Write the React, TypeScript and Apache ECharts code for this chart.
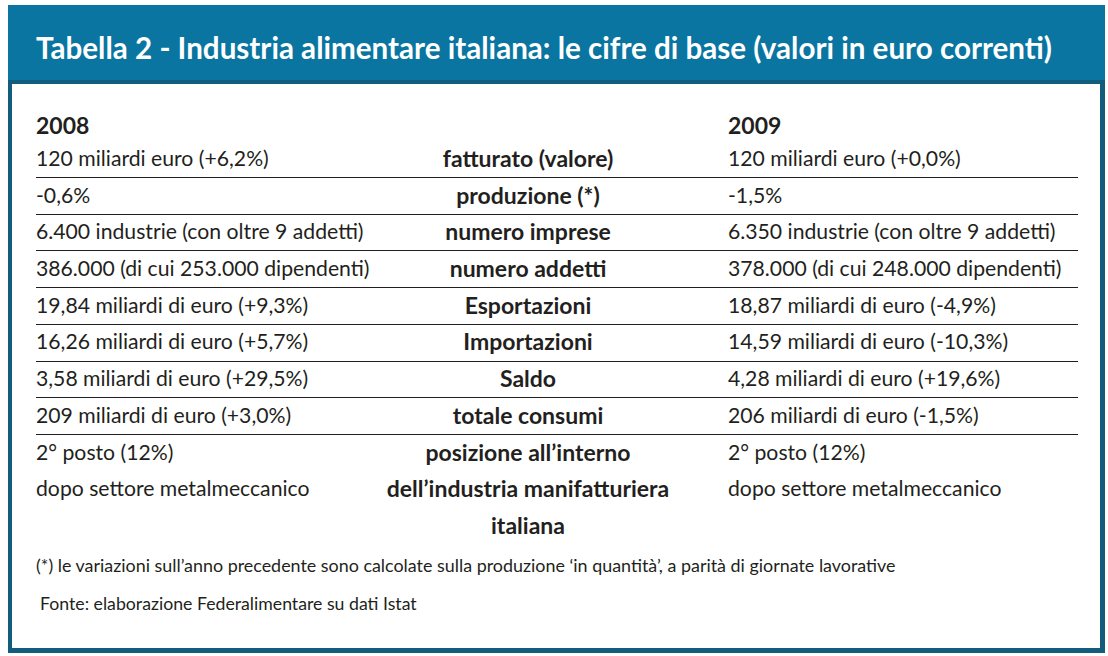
import React, { useEffect, useRef } from "react";
import * as echarts from "echarts";

const title = "Tabella 2 - Industria alimentare italiana: le cifre di base (valori in euro correnti)";
const years = ["2008", "2009"];
const indicators = [
  "fatturato (valore)",
  "produzione (*)",
  "numero imprese",
  "numero addetti",
  "Esportazioni",
  "Importazioni",
  "Saldo",
  "totale consumi",
  "posizione all\u2019interno\ndell\u2019industria manifatturiera\nitaliana",
];
const values2008 = [
  "120 miliardi euro (+6,2%)",
  "-0,6%",
  "6.400 industrie (con oltre 9 addetti)",
  "386.000 (di cui 253.000 dipendenti)",
  "19,84 miliardi di euro (+9,3%)",
  "16,26 miliardi di euro (+5,7%)",
  "3,58 miliardi di euro (+29,5%)",
  "209 miliardi di euro (+3,0%)",
  "2\u00b0 posto (12%)\ndopo settore metalmeccanico",
];
const values2009 = [
  "120 miliardi euro (+0,0%)",
  "-1,5%",
  "6.350 industrie (con oltre 9 addetti)",
  "378.000 (di cui 248.000 dipendenti)",
  "18,87 miliardi di euro (-4,9%)",
  "14,59 miliardi di euro (-10,3%)",
  "4,28 miliardi di euro (+19,6%)",
  "206 miliardi di euro (-1,5%)",
  "2\u00b0 posto (12%)\ndopo settore metalmeccanico",
];
const footnote = "(*) le variazioni sull\u2019anno precedente sono calcolate sulla produzione \u2018in quantit\u00e0\u2019, a parit\u00e0 di giornate lavorative";
const source = "Fonte: elaborazione Federalimentare su dati Istat";

const W = 1108;
const H = 656;
const BLUE = "#0a75a0";
const DARK = "#145c7e";
const INK = "#231f20";
const FONT = "Lato, 'Noto Sans', sans-serif";

export default function App() {
  const ref = useRef<HTMLDivElement>(null);
  useEffect(() => {
    document.body.style.margin = "0";
    const chart = echarts.init(ref.current!, null, { renderer: "svg" });
    const els: any[] = [];
    // frame
    els.push({ type: "rect", shape: { x: 8, y: 5, width: 1097, height: 648 }, style: { fill: DARK } });
    els.push({ type: "rect", shape: { x: 8, y: 5, width: 1097, height: 75 }, style: { fill: BLUE } });
    els.push({ type: "rect", shape: { x: 12, y: 84, width: 1088, height: 564 }, style: { fill: "#ffffff" } });
    els.push({
      type: "text", x: 36, y: 47,
      style: { text: title, fill: "#ffffff", font: `bold 29.6px ${FONT}`, textVerticalAlign: "middle" },
    });
    const colL = 36, colC = 528, colR = 728;
    const rowH = 36.7;
    const firstLine = 177;
    const fs = 21.2;
    const fsB = 23;
    // years
    els.push({ type: "text", x: colL, y: 125, style: { text: years[0], fill: INK, font: `bold ${fsB}px ${FONT}`, textVerticalAlign: "middle" } });
    els.push({ type: "text", x: colR, y: 125, style: { text: years[1], fill: INK, font: `bold ${fsB}px ${FONT}`, textVerticalAlign: "middle" } });
    indicators.forEach((lab, i) => {
      const yTop = firstLine + (i - 1) * rowH;
      const yc = yTop + rowH / 2 - 1;
      const common = { lineHeight: 36.5, textVerticalAlign: "top" };
      els.push({ type: "text", x: colL, y: yc - 18, style: { text: values2008[i], fill: INK, font: `${fs}px ${FONT}`, ...common } });
      els.push({ type: "text", x: colC, y: yc - 18, style: { text: lab, fill: INK, font: `bold ${fsB}px ${FONT}`, textAlign: "center", ...common } });
      els.push({ type: "text", x: colR, y: yc - 18, style: { text: values2009[i], fill: INK, font: `${fs}px ${FONT}`, ...common } });
      if (i < indicators.length - 1) {
        const ly = Math.round(firstLine + i * rowH) + 0.5;
        els.push({ type: "line", shape: { x1: 36, y1: ly, x2: 1078, y2: ly }, style: { stroke: INK, lineWidth: 1.2 } });
      }
    });
    els.push({ type: "text", x: 36, y: 565, style: { text: footnote, fill: INK, font: `17.9px ${FONT}`, textVerticalAlign: "middle" } });
    els.push({ type: "text", x: 40, y: 603, style: { text: source, fill: INK, font: `17.7px ${FONT}`, textVerticalAlign: "middle" } });

    chart.setOption({ animation: false, graphic: { elements: els } });
    return () => chart.dispose();
  }, []);
  return <div ref={ref} style={{ width: W, height: H }} />;
}
